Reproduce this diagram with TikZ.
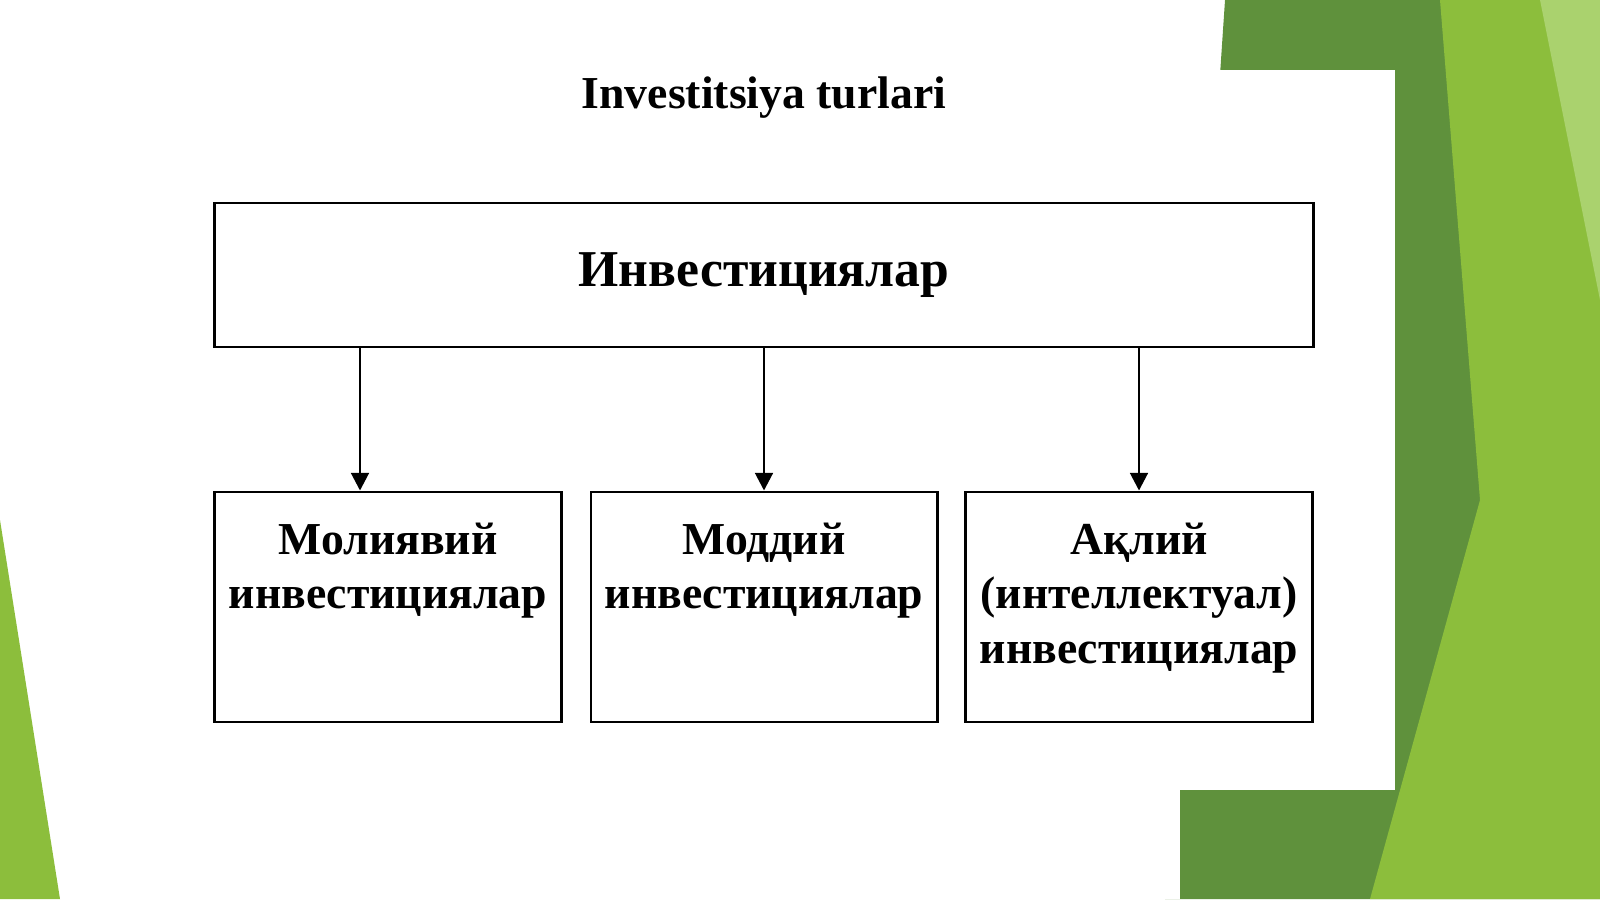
\documentclass[tikz,border=0pt]{standalone}
\usepackage{fontspec}
\setmainfont{Liberation Serif}
\usetikzlibrary{positioning, arrows.meta}
\definecolor{yashil}{RGB}{140,190,60}
\definecolor{tuqyashil}{RGB}{95,145,60}
\definecolor{ochyashil}{RGB}{170,210,110}
\tikzset{>={Triangle[length=5pt,width=5pt]},
  quti/.style={draw, line width=0.8pt, inner sep=0pt},
  yozuv/.style={font=\bfseries\fontsize{13}{15.5}\selectfont, align=center, inner sep=0pt}}

\begin{document}
\begin{tikzpicture}[x=0.01cm, y=-0.01cm]
	\useasboundingbox (0,0) rectangle (1600,899);
	% fon
	\fill [tuqyashil] (1225,0) -- (1600,0) -- (1600,899) -- (1165,899) -- cycle;
	\fill [yashil] (1440,0) -- (1600,0) -- (1600,899) -- (1370,899) -- (1480,500) -- cycle;
	\fill [ochyashil] (1540,0) -- (1600,0) -- (1600,300) -- cycle;
	\fill [white] (0,70) rectangle (1395,790);
	\fill [white] (0,0) rectangle (1215,70);
	\fill [white] (0,790) rectangle (1180,899);
	\fill [yashil] (0,520) -- (60,899) -- (0,899) -- cycle;
	\node [font=\bfseries\fontsize{13}{16}\selectfont] (sarlavha) at (764,98) {Investitsiya turlari};

	\node [quti, minimum width=10.98cm, minimum height=1.44cm] (asosiy) at (764,275) {};
	\node [font=\bfseries\fontsize{14.7}{18}\selectfont] at (asosiy) {Инвестициялар};

	\node [quti, minimum width=3.47cm, minimum height=2.30cm] (moliya) at (388,607) {};
	\node [quti, minimum width=3.46cm, minimum height=2.30cm] (modda) at (764,607) {};
	\node [quti, minimum width=3.47cm, minimum height=2.30cm] (aql) at (1139,607) {};

	\node [yozuv, below=9pt of moliya.north, anchor=north] {Молиявий\\инвестициялар};
	\node [yozuv, below=9pt of modda.north, anchor=north] {Моддий\\инвестициялар};
	\node [yozuv, below=9pt of aql.north, anchor=north] {Ақлий\\(интеллектуал)\\инвестициялар};

	\draw [->, line width=0.8pt] (asosiy.south -| 360,0) -- (moliya.north -| 360,0);
	\draw [->, line width=0.8pt] (asosiy.south) -- (modda.north);
	\draw [->, line width=0.8pt] (asosiy.south -| aql) -- (aql.north);
\end{tikzpicture}
\end{document}
